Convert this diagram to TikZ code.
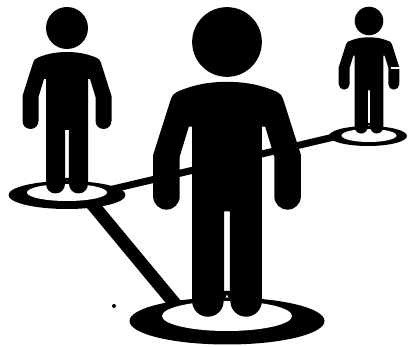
\documentclass[tikz,border=0pt]{standalone}
\usepackage{tikz}
\usetikzlibrary{shapes.geometric}

\begin{document}
\begin{tikzpicture}[
    x=1pt,
    y=-1pt,
    ring/.style={
        ellipse,
        fill=black,
        inner sep=0pt
    },
    hole/.style={
        ellipse,
        fill=white,
        inner sep=0pt
    },
    link/.style={draw=black, shorten <=-8pt, shorten >=-8pt},
    person/.pic={
        \fill (0,0) circle (21);
        \fill[even odd rule] (0,24)
            .. controls (-14,24) and (-23,27) .. (-30,30)
            .. controls (-32,31) and (-33,32) .. (-34,35)
            -- (-44.5,68) -- (-44.5,93) arc (180:0:8)
            -- (-28.5,69) -- (-23,51) -- (-21,51)
            -- (-21,156) arc (180:0:9.5)
            -- (0,152) -- (2,156) arc (180:0:9.5)
            -- (21,51) -- (23,51) -- (28.5,69)
            -- (28.5,93) arc (180:0:8)
            -- (44.5,68) -- (34,35)
            .. controls (33,32) and (32,31) .. (30,30)
            .. controls (23,27) and (14,24) .. (0,24) -- cycle
            (-1.8,102) rectangle (1.8,150);
    }
]
\useasboundingbox (0,0) rectangle (408,347);

% Discs
\node[ring, minimum width=117pt, minimum height=28pt] (ringleft) at (67,195) {};
\node[ring, minimum width=195pt, minimum height=47pt] (ringcenter) at (227,321) {};
\node[ring, minimum width=78pt, minimum height=20pt] (ringright) at (368,136) {};

% Links
\draw[link, line width=7pt] (ringleft.8) -- (ringright.183);
\draw[link, line width=13pt] (ringleft.-24) -- (ringcenter.160);

% Holes
\node[hole, minimum width=80pt, minimum height=17pt] (holeleft) at (67,192.5) {};
\node[hole, minimum width=130pt, minimum height=30pt] (holecenter) at (227,316) {};
\node[hole, minimum width=55pt, minimum height=13pt] (holeright) at (369,135.5) {};

% People
\pic[scale=1] (personleft) at (67,28) {person};
\pic[scale=1.66] (personcenter) at (227,42) {person};
\pic[scale=0.68] (personright) at (369,21) {person};
\draw[white, line width=1.5pt] (391,68) -- (399.5,68);

% Speck
\node[circle, fill=black, inner sep=0pt, minimum size=4pt] (speck) at (114,306) {};

\end{tikzpicture}
\end{document}
